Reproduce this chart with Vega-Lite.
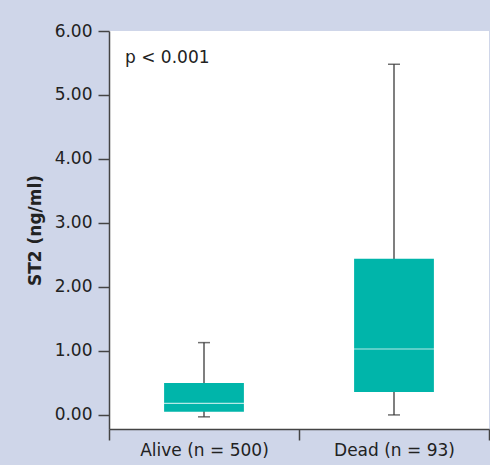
{
  "$schema": "https://vega.github.io/schema/vega-lite/v6.json",
  "width": 380,
  "height": 398,
  "autosize": {"type": "none"},
  "padding": {"left": 109, "top": 31, "right": 1, "bottom": 36},
  "background": "#CFD6E9",
  "config": {
    "view": {"stroke": null, "fill": "#ffffff"},
    "font": "DejaVu Sans",
    "axis": {
      "grid": false,
      "domainColor": "#444444",
      "domainWidth": 1.5,
      "tickColor": "#444444",
      "tickWidth": 1.5,
      "tickSize": 11,
      "labelFont": "DejaVu Sans",
      "labelFontSize": 17,
      "labelColor": "#222222",
      "titleFont": "DejaVu Sans"
    }
  },
  "data": {
    "values": [
      {"group": "Alive (n = 500)", "lower": -0.03, "q1": 0.05, "median": 0.18, "q3": 0.5, "upper": 1.13},
      {"group": "Dead (n = 93)", "lower": 0.0, "q1": 0.36, "median": 1.03, "q3": 2.44, "upper": 5.48}
    ]
  },
  "encoding": {
    "x": {
      "field": "group",
      "type": "nominal",
      "sort": null,
      "scale": {"paddingInner": 0, "paddingOuter": 0},
      "axis": {"title": null, "labelAngle": 0, "tickBand": "extent", "labelPadding": 2}
    }
  },
  "layer": [
    {
      "mark": {"type": "rule", "color": "#555555", "strokeWidth": 1.5},
      "encoding": {
        "y": {
          "field": "lower",
          "type": "quantitative",
          "scale": {"domain": [-0.22, 6], "nice": false, "zero": false},
          "axis": {
            "title": "ST2 (ng/ml)",
            "titleFontSize": 17,
            "titleFontWeight": "bold",
            "titleColor": "#222222",
            "titlePadding": 10,
            "values": [0, 1, 2, 3, 4, 5, 6],
            "format": ".2f",
            "labelPadding": 6
          }
        },
        "y2": {"field": "upper"}
      }
    },
    {
      "mark": {"type": "tick", "color": "#333333", "thickness": 1.5, "size": 12},
      "encoding": {"y": {"field": "lower", "type": "quantitative"}}
    },
    {
      "mark": {"type": "tick", "color": "#333333", "thickness": 1.5, "size": 12},
      "encoding": {"y": {"field": "upper", "type": "quantitative"}}
    },
    {
      "mark": {"type": "bar", "color": "#00B5AA", "width": {"band": 0.42}},
      "encoding": {
        "y": {"field": "q1", "type": "quantitative"},
        "y2": {"field": "q3"}
      }
    },
    {
      "mark": {"type": "tick", "color": "#ffffff", "thickness": 1.2},
      "encoding": {
        "y": {"field": "median", "type": "quantitative"},
        "size": {"value": 80}
      }
    },
    {
      "data": {"values": [{"group": "Alive (n = 500)", "y": 5.5, "label": "p < 0.001"}]},
      "mark": {"type": "text", "align": "left", "baseline": "alphabetic", "dx": 16, "fontSize": 17, "color": "#222222", "font": "DejaVu Sans"},
      "encoding": {
        "x": {"field": "group", "type": "nominal", "bandPosition": 0},
        "y": {"field": "y", "type": "quantitative"},
        "text": {"field": "label"}
      }
    }
  ]
}
